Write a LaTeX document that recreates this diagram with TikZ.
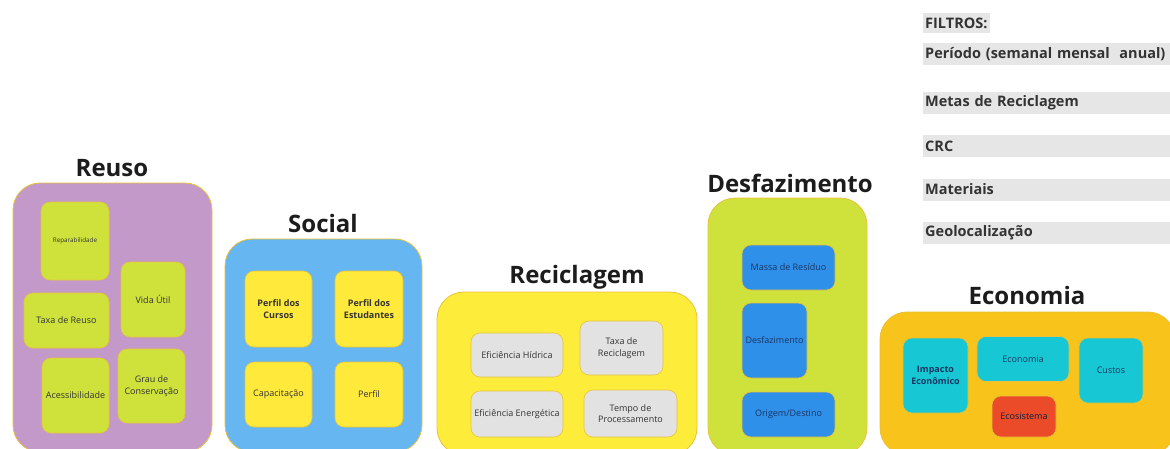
\documentclass[tikz,border=0pt]{standalone}
\usepackage{fontspec}
\setmainfont{Open Sans}
\begin{document}
\definecolor{edge}{HTML}{E8C23A}
\definecolor{purp}{HTML}{C299C9}
\definecolor{lime}{HTML}{CFE23C}
\definecolor{sky}{HTML}{66B6F2}
\definecolor{sun}{HTML}{FFE93B}
\definecolor{lemon}{HTML}{FDEC3A}
\definecolor{pale}{HTML}{E2E2E2}
\definecolor{azul}{HTML}{2F90EA}
\definecolor{amber}{HTML}{F8C31A}
\definecolor{teal}{HTML}{17C7D3}
\definecolor{tomato}{HTML}{EC4B2A}
\definecolor{ink}{HTML}{1C1C1C}
\definecolor{txt}{HTML}{333333}
\definecolor{navy}{HTML}{1B3563}
\definecolor{barfill}{HTML}{E6E6E6}
\begin{tikzpicture}[x=1pt,y=-1pt,
  outer/.style={draw=edge,line width=0.8pt,rounded corners=27pt,minimum width=#1},
  inner/.style={draw=edge,line width=0.6pt,rounded corners=9pt,align=center,
    text=txt,font=\fontsize{9}{11.5}\selectfont,inner sep=2pt},
  boldin/.style={font=\bfseries\fontsize{9}{11.5}\selectfont},
  title/.style={font=\bfseries\fontsize{24}{27}\selectfont,text=ink},
  filterbar/.style={fill=barfill,anchor=west,inner xsep=2pt,inner ysep=0pt,
    text width=246pt,align=left,minimum height=22pt,text=txt,
    font=\bfseries\fontsize{14.5}{16}\selectfont},
  wh/.style 2 args={minimum width=#1,minimum height=#2}]
\useasboundingbox (0,0) rectangle (1170,448);

% Reuso
\node[title] (treuso) at (112,168) {Reuso};
\node[outer=199pt,fill=purp,minimum height=269pt] (reuso) at (112.5,317.5) {};
\node[inner,fill=lime,wh={68pt}{78pt},font=\fontsize{6.3}{7.5}\selectfont] (rep) at (75,241) {Reparabilidade};
\node[inner,fill=lime,wh={64pt}{75pt}] (vida) at (153,299.5) {Vida Útil};
\node[inner,fill=lime,wh={85pt}{55pt}] (taxa) at (66.5,320.5) {Taxa de Reuso};
\node[inner,fill=lime,wh={67pt}{75pt}] (acess) at (75.5,395.5) {Acessibilidade};
\node[inner,fill=lime,wh={67pt}{74pt}] (grau) at (151.5,386) {Grau de\\Conservação};

% Social
\node[title] (tsocial) at (323,223) {Social};
\node[outer=197pt,fill=sky,minimum height=213pt] (social) at (323.5,345.5) {};
\node[inner,boldin,fill=sun,wh={67pt}{76pt}] (cursos) at (278.5,309) {Perfil dos\\Cursos};
\node[inner,boldin,fill=sun,wh={68pt}{76pt}] (estud) at (369,309) {Perfil dos\\Estudantes};
\node[inner,fill=sun,wh={67pt}{65pt}] (capac) at (278.5,394.5) {Capacitação};
\node[inner,fill=sun,wh={68pt}{65pt}] (perfil) at (369,394.5) {Perfil};

% Reciclagem
\node[title] (trecic) at (577,277) {Reciclagem};
\node[outer=260pt,fill=lemon,minimum height=163pt] (recic) at (567,373.5) {};
\node[inner,fill=pale,wh={92pt}{44pt}] (hidr) at (517,355) {Eficiência Hídrica};
\node[inner,fill=pale,wh={83pt}{54pt}] (taxrec) at (621.5,348) {Taxa de\\Reciclagem};
\node[inner,fill=pale,wh={92pt}{46pt}] (energ) at (517,414) {Eficiência Energética};
\node[inner,fill=pale,wh={93pt}{47pt}] (tempo) at (630.5,413.5) {Tempo de\\Processamento};

% Desfazimento
\node[title] (tdesf) at (790,183) {Desfazimento};
\node[outer=159pt,fill=lime,minimum height=257pt] (desf) at (787.5,326.5) {};
\node[inner,fill=azul,text=navy,wh={93pt}{45pt}] (massa) at (788.5,267.5) {Massa de Resíduo};
\node[inner,fill=azul,text=navy,wh={65pt}{75pt}] (desfi) at (774.5,340.5) {Desfazimento};
\node[inner,fill=azul,text=navy,wh={93pt}{45pt}] (orig) at (788.5,414.5) {Origem/Destino};

% Economia
\node[title] (tecon) at (1027,295) {Economia};
\node[outer=295pt,fill=amber,minimum height=143pt] (econ) at (1027.5,383.5) {};
\node[inner,boldin,fill=teal,text=navy,wh={65pt}{75pt}] (impacto) at (935.5,375.5) {Impacto\\Econômico};
\node[inner,fill=teal,text=navy,wh={92pt}{45pt}] (econi) at (1023,359) {Economia};
\node[inner,fill=teal,text=navy,wh={64pt}{65pt}] (custos) at (1111,370.5) {Custos};
\node[inner,fill=tomato,text=navy!60!black,wh={64pt}{41pt}] (ecos) at (1024,416.5) {Ecosistema};

% Filtros
\node[fill=barfill,anchor=west,inner xsep=2pt,minimum height=20pt,text=txt,
  font=\bfseries\fontsize{14.5}{16}\selectfont] (filtros) at (923,23) {FILTROS:};
\node[filterbar] (periodo) at (923,54) {Período (semanal mensal\ \ anual)};
\node[filterbar] (metas) at (923,102.5) {Metas de Reciclagem};
\node[filterbar] (crc) at (923,146) {CRC};
\node[filterbar] (mat) at (923,189.5) {Materiais};
\node[filterbar] (geo) at (923,233) {Geolocalização};
\end{tikzpicture}
\end{document}
